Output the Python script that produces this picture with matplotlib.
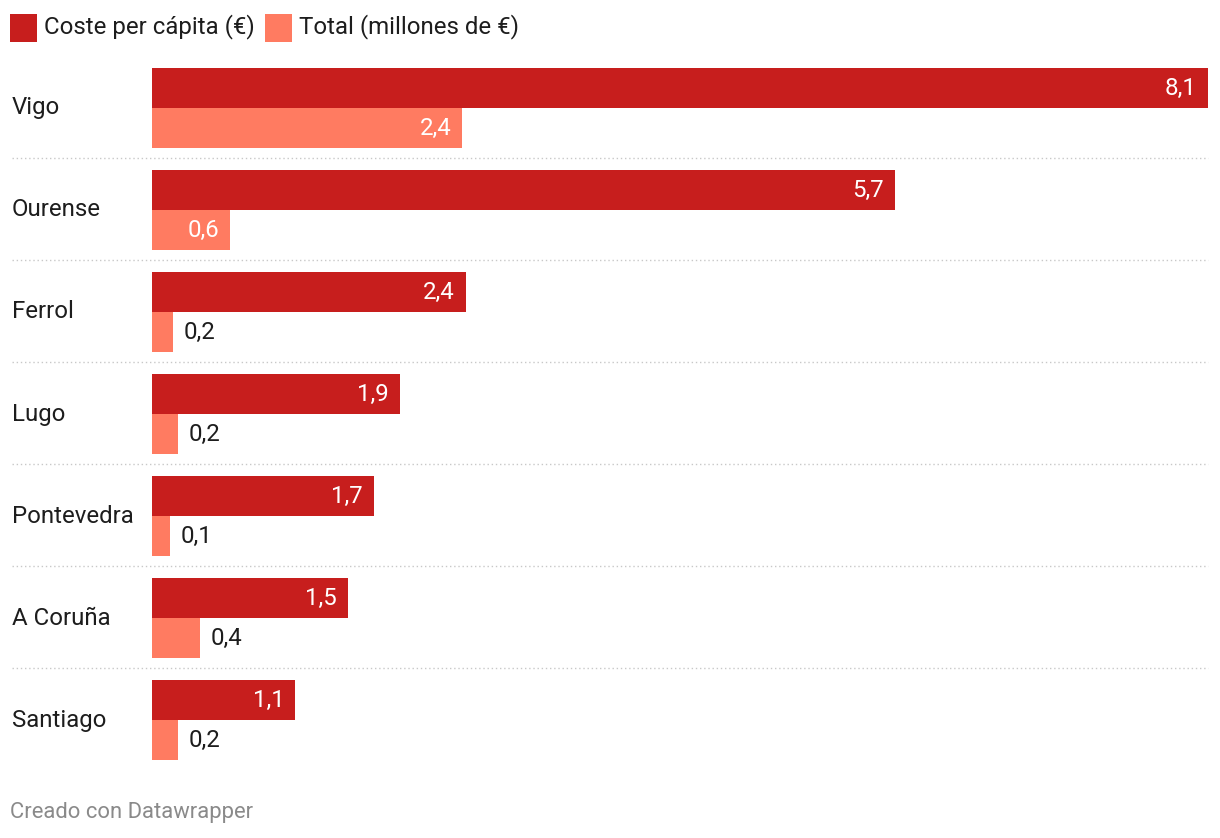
import matplotlib.pyplot as plt
from matplotlib.patches import Rectangle
from matplotlib.transforms import blended_transform_factory

plt.rcParams["font.family"] = ["Roboto", "DejaVu Sans"]

cities = ["Vigo", "Ourense", "Ferrol", "Lugo", "Pontevedra", "A Coruña", "Santiago"]
per_capita = [8.1, 5.7, 2.41, 1.9, 1.7, 1.5, 1.1]
total = [2.38, 0.6, 0.16, 0.2, 0.14, 0.37, 0.2]
series_names = ["Coste per cápita (€)", "Total (millones de €)"]

DARK = "#c71e1d"
SALMON = "#ff7b61"
TEXT = "#1d1d1d"
W, H = 1220, 838

fig = plt.figure(figsize=(W / 100, H / 100), dpi=100)
# axes spans the bar area: x 152..1208 px, y 68..760 px
ax = fig.add_axes([152 / W, 1 - 760 / H, (1208 - 152) / W, (760 - 68) / H])

pitch = 102.0
bh = 40 / pitch
n = len(cities)
ax.set_xlim(0, max(per_capita))
ax.set_ylim(n - 1 + 2 * bh, 0)
ax.axis("off")

FS = 17.3
inside_min = 0.5  # bars narrower than this get their label outside

tr = blended_transform_factory(fig.transFigure, ax.transData)
for i, city in enumerate(cities):
    for j, (vals, col) in enumerate([(per_capita, DARK), (total, SALMON)]):
        v = vals[i]
        y = i + j * bh
        ax.barh(y, v, height=bh, align="edge", color=col, linewidth=0)
        lab = f"{v:.1f}".replace(".", ",")
        yc = y + bh / 2
        if v >= inside_min:
            ax.text(v - 0.085, yc, lab, ha="right", va="center", color="white", fontsize=FS)
        else:
            ax.text(v + 0.08, yc, lab, ha="left", va="center", color=TEXT, fontsize=FS)
    # city label at left edge of figure
    ax.text(12 / W, i + bh, city, transform=tr, ha="left", va="center", color=TEXT, fontsize=FS)
    if i < n - 1:
        ys = i + 90 / pitch
        ax.plot([12 / W, 1208 / W], [ys, ys], transform=tr, color="#c8c8c8",
                linestyle=(0, (1, 2)), linewidth=1.0, clip_on=False)

# legend
for name, col, x0 in zip(series_names, [DARK, SALMON], [10, 265]):
    fig.patches.append(Rectangle((x0 / W, 1 - 42 / H), 27 / W, 28 / H,
                                 transform=fig.transFigure, color=col, linewidth=0))
    fig.text((x0 + 34) / W, 1 - 27 / H, name, ha="left", va="center", color=TEXT, fontsize=FS)

fig.text(10 / W, 1 - 812 / H, "Creado con Datawrapper", ha="left", va="center",
         color="#8a8a8a", fontsize=15.8)

fig.savefig("out.png", dpi=100, facecolor="white")
